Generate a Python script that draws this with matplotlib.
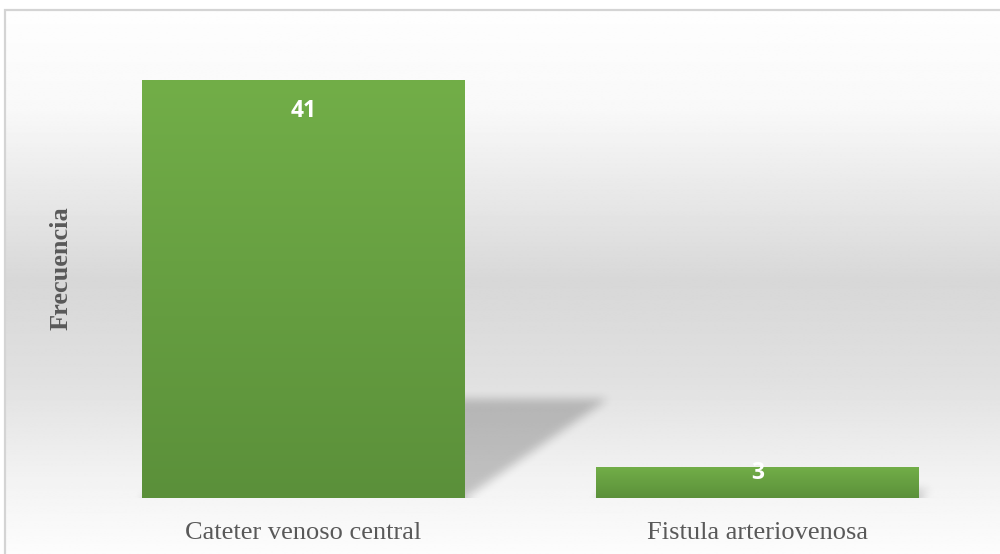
import matplotlib.pyplot as plt
import numpy as np
from matplotlib.patches import Rectangle
from matplotlib.colors import LinearSegmentedColormap

# datos
categorias = ['Cateter venoso central', 'Fistula arteriovenosa']
frecuencia = [41, 3]

W, H = 1000, 554
fig = plt.figure(figsize=(W / 100, H / 100), dpi=100)

# fondo degradado del area del grafico
bg = fig.add_axes([5 / W, 0, 1 - 5 / W, (H - 10) / H], zorder=0)
t = np.linspace(0, 1, 400)
stops_t = [0, 0.18, 0.34, 0.5, 0.68, 0.86, 1.0]
stops_v = [0.995, 0.975, 0.91, 0.845, 0.88, 0.95, 0.99]
g = np.interp(t, stops_t, stops_v)
bg.imshow(np.repeat(g[:, None], 2, axis=1), cmap='gray', vmin=0, vmax=1,
          aspect='auto', extent=[0, 1, 0, 1], interpolation='bilinear')
bg.set_xlim(0, 1)
bg.set_ylim(0, 1)
bg.axis('off')

# borde
fig.patches.append(Rectangle((5 / W, -0.05), 1.1, (H - 10) / H + 0.05, transform=fig.transFigure,
                             fill=False, edgecolor='#d4d4d4', linewidth=1.6, zorder=5))

ax = fig.add_axes([76.5 / W, 56 / H, 908 / W, 458.8 / H], zorder=1)
ax.patch.set_alpha(0)
ymax = 45
ax.set_xlim(-0.5, 1.5)
ax.set_ylim(0, ymax)

x = np.arange(len(categorias))
ancho = 0.711

# sombras en perspectiva (raster difuminado)
nx, ny = 908, 459
xs = np.linspace(-0.5, 1.5, nx)
ys = np.linspace(0, ymax, ny)
XX, YY = np.meshgrid(xs, ys)
mask = np.zeros_like(XX)
k = 0.0325  # desplazamiento horizontal por unidad de y
for xi, v in zip(x, frecuencia):
    hs = v * 0.235
    sx = XX - YY * k
    inside = (YY <= hs) & (sx >= xi - ancho / 2) & (sx <= xi + ancho / 2)
    mask[inside] = 1.0

def box_blur(a, r, axis):
    pad = [(0, 0), (0, 0)]
    pad[axis] = (r + 1, r)
    b = np.pad(a, pad, mode='edge')
    c = np.cumsum(b, axis=axis)
    if axis == 0:
        return (c[2 * r + 1:, :] - c[:-2 * r - 1, :]) / (2 * r + 1)
    return (c[:, 2 * r + 1:] - c[:, :-2 * r - 1]) / (2 * r + 1)

for _ in range(3):
    mask = box_blur(mask, 4, 0)
    mask = box_blur(mask, 4, 1)
sombra = np.zeros((ny, nx, 4))
sombra[..., 3] = mask * 0.21
ax.imshow(sombra, extent=[-0.5, 1.5, 0, ymax], origin='lower', aspect='auto',
          zorder=1, interpolation='bilinear')

# barras con degradado verde
verde = LinearSegmentedColormap.from_list('verde', ['#5b903a', '#72ae48'])
barras = ax.bar(x, frecuencia, width=ancho, color='none', edgecolor='none', zorder=2)
grad = np.linspace(0, 1, 256)[:, None]
for b in barras:
    x0, y0 = b.get_x(), b.get_y()
    im = ax.imshow(grad, cmap=verde, origin='lower', aspect='auto',
                   extent=[x0, x0 + b.get_width(), y0, y0 + b.get_height()], zorder=2)
    im.set_clip_path(b)

# etiquetas de valor
px_por_u = 458.8 / ymax
for xi, v in zip(x, frecuencia):
    off = min(28.5, v * px_por_u * 0.1) + 3
    ax.annotate(str(v), (xi, v), xytext=(0, -off * 0.72), textcoords='offset points',
                ha='center', va='center', color='white', fontsize=16.5,
                fontweight='bold', family='Open Sans', zorder=4)

ax.set_xlim(-0.5, 1.5)
ax.set_ylim(0, ymax)
ax.set_xticks(x)
ax.set_xticklabels(categorias, family='Liberation Serif', fontsize=19, color='#595959')
ax.tick_params(axis='x', length=0, pad=17)
ax.set_yticks([])
for s in ax.spines.values():
    s.set_visible(False)

ax.set_ylabel('Frecuencia', family='Liberation Serif', fontsize=19, fontweight='bold',
              color='#595959', va='center')
ax.yaxis.set_label_coords(-15.5 / 908, 0.5)

plt.savefig('out.png', dpi=100)
